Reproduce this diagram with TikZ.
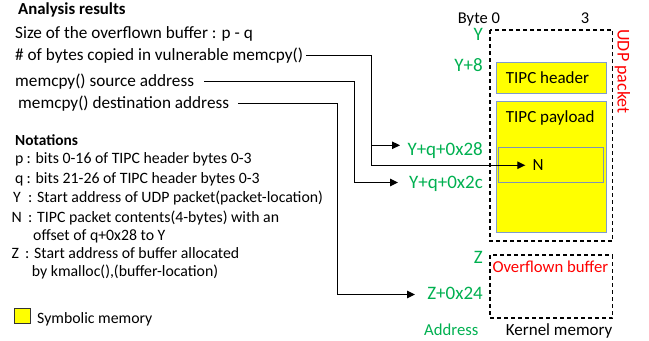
\documentclass[tikz,border=0pt]{standalone}
\usepackage{fontspec}
\setmainfont{Carlito}
\usetikzlibrary{arrows.meta}
\definecolor{grn}{HTML}{00B050}
\definecolor{ylw}{HTML}{FFFF00}
\definecolor{bdr}{HTML}{7F9CCB}
\begin{document}
\begin{tikzpicture}[x=1bp,y=-1bp,
  txt/.style={inner sep=0pt,anchor=base west},
  ana/.style={txt,font=\fontsize{17.2bp}{20bp}\selectfont},
  nota/.style={txt,font=\fontsize{15.8bp}{18bp}\selectfont},
  addr/.style={inner sep=0pt,anchor=base east,text=grn,font=\fontsize{19bp}{22bp}\selectfont},
  lab/.style={txt,font=\fontsize{17bp}{20bp}\selectfont},
  symbox/.style={draw=bdr,fill=ylw,line width=0.9bp},
  dbox/.style={draw=black,dashed,dash pattern=on 4bp off 3bp,line width=1.2bp},
  conn/.style={draw=black,line width=1.1bp},
  arr/.style={conn,-{Triangle[length=8bp,width=7.5bp]}}]
\useasboundingbox (0,0) rectangle (649,340);

% ---- Analysis results
\node[ana,font=\fontsize{16.8bp}{20bp}\selectfont\bfseries] (title) at (18,14) {Analysis results};
\node[ana] (size) at (15,38.5) {Size of the overflown buffer : p - q};
\node[ana] (bytes) at (15,60.5) {\# of bytes copied in vulnerable memcpy()};
\node[ana] (src) at (15,86.5) {memcpy() source address};
\node[ana] (dst) at (18,108.5) {memcpy() destination address};

% ---- Notations
\node[nota,font=\fontsize{15.4bp}{18bp}\selectfont\bfseries] (notit) at (15,145) {Notations};
\node[nota] (pl) at (15,163.5) {p};
\node[nota] (pt) at (26.5,163.5) {: bits 0-16 of TIPC header bytes 0-3};
\node[nota] (ql) at (15,183.3) {q};
\node[nota] (qt) at (26.5,183.3) {: bits 21-26 of TIPC header bytes 0-3};
\node[nota] (yl) at (13,202.7) {Y};
\node[nota] (yt) at (28,202.7) {: Start address of UDP packet(packet-location)};
\node[nota] (nl) at (11.5,222.7) {N};
\node[nota] (nt) at (28,222.7) {: TIPC packet contents(4-bytes) with an};
\node[nota] (nt2) at (33,240.5) {offset of q+0x28 to Y};
\node[nota] (zl) at (11.5,258.5) {Z};
\node[nota] (zt) at (25,258.5) {: Start address of buffer allocated};
\node[nota] (zt2) at (31.7,276.7) {by kmalloc(),(buffer-location)};
\draw[draw=black!80,fill=ylw,line width=0.9bp] (14,308) rectangle (30,323);
\node[nota] (sym) at (37,323.3) {Symbolic memory};

% ---- Memory layout
\draw[dbox] (490,30) rectangle (612.5,241);
\draw[symbox] (496,62) rectangle (606.5,93);
\draw[symbox] (496,101) rectangle (606.5,232);
\draw[draw=bdr!70!gray,line width=0.9bp] (498,147) rectangle (603,182);
\draw[dbox] (490,255) rectangle (612.5,318);

\node[lab] (hdrt) at (505.7,83.3) {TIPC header};
\node[lab] (payt) at (505.7,122) {TIPC payload};
\node[lab] (N) at (532.3,170.7) {N};
\node[lab,text=red,font=\fontsize{16.7bp}{20bp}\selectfont] (ovf) at (492.3,272.3) {Overflown buffer};
\node[lab,font=\fontsize{16.5bp}{20bp}\selectfont] (byte0) at (457.7,23.3) {Byte 0};
\node[lab,font=\fontsize{16.5bp}{20bp}\selectfont] (byte3) at (580.7,23.3) {3};
\node[inner sep=0pt,anchor=center,rotate=-90,text=red,font=\fontsize{18bp}{20bp}\selectfont] (udp) at (622.5,71.5) {UDP packet};

\node[addr] (ay) at (483,40) {Y};
\node[addr] (ay8) at (483,71.7) {Y+8};
\node[addr] (a28) at (483,155) {Y+q+0x28};
\node[addr] (a2c) at (483,188.3) {Y+q+0x2c};
\node[addr] (az) at (483,263) {Z};
\node[addr] (az24) at (483,299.5) {Z+0x24};
\node[lab,text=grn,font=\fontsize{16.7bp}{20bp}\selectfont] (addr) at (424,335) {Address};
\node[lab] (kern) at (505.7,335) {Kernel memory};

% ---- Connectors
\coordinate (k1) at (371.5,55);
\coordinate (k2) at (354.5,82);
\coordinate (k3) at (337.5,104);
\coordinate (t28) at (400,145.3);
\coordinate (t2c) at (398,182.5);
\coordinate (t24) at (415,294.5);
\draw[arr] ([xshift=3bp]bytes.east) -| (k1 |- N.west) -- ([xshift=-7bp]N.west);
\draw[arr] (k1 |- t28) -- (t28);
\draw[arr] ([xshift=10bp]src.east) -| (k2 |- t2c) -- (t2c);
\draw[arr] ([xshift=9bp]dst.east) -| (k3 |- t24) -- (t24);
\end{tikzpicture}
\end{document}
